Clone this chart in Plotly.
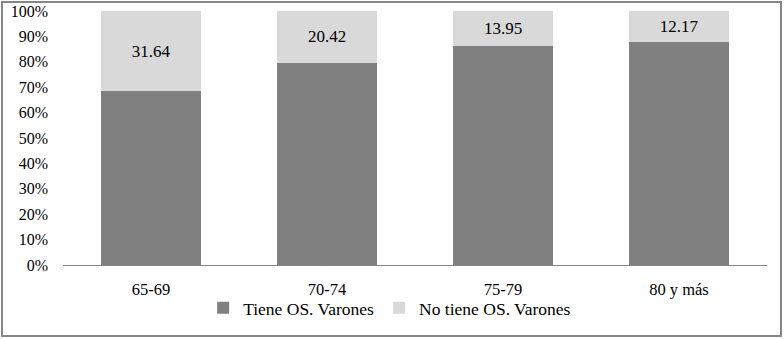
import plotly.graph_objects as go

categories = ["65-69", "70-74", "75-79", "80 y más"]
tiene = [68.36, 79.58, 86.05, 87.83]
no_tiene = [31.64, 20.42, 13.95, 12.17]
series_names = ["Tiene OS. Varones", "No tiene OS. Varones"]
tick_vals = [0, 10, 20, 30, 40, 50, 60, 70, 80, 90, 100]
tick_text = [f"{v}%" for v in tick_vals]

FONT = "Liberation Serif, Times New Roman, serif"

fig = go.Figure()
fig.add_trace(go.Bar(x=categories, y=tiene, name=series_names[0],
                     marker=dict(color="#808080", line=dict(width=0))))
fig.add_trace(go.Bar(x=categories, y=no_tiene, name=series_names[1],
                     marker=dict(color="#d9d9d9", line=dict(width=0)),
                     text=[f"{v:.2f}" for v in no_tiene], textposition="inside",
                     insidetextanchor="middle",
                     textfont=dict(family=FONT, size=17, color="#000000")))

L, R, T, B = 63, 17, 11, 74
W, H = 784, 339
pw, ph = W - L - R, H - T - B

fig.update_layout(
    barmode="stack", bargap=0.43,
    width=W, height=H,
    margin=dict(l=L, r=R, t=T, b=B, autoexpand=False),
    paper_bgcolor="white", plot_bgcolor="white",
    font=dict(family=FONT, size=16, color="#000000"),
    showlegend=True,
    legend=dict(orientation="h", x=0.497, xref="container", xanchor="center",
                y=0.145, yref="container", yanchor="top",
                font=dict(family=FONT, size=17.5), itemwidth=30,
                traceorder="normal", bgcolor="rgba(0,0,0,0)"),
    uniformtext=dict(mode=False),
    xaxis=dict(showgrid=False, showline=True, linecolor="#868686", linewidth=1,
               ticks="", ticklabelstandoff=9, automargin=False,
               tickfont=dict(family=FONT, size=16.5)),
    yaxis=dict(range=[0, 100], tickvals=tick_vals, ticktext=tick_text,
               showgrid=False, showline=False, zeroline=False, ticks="",
               ticklabelstandoff=14, automargin=False,
               tickfont=dict(family=FONT, size=16)),
    shapes=[dict(type="rect", xref="paper", yref="paper",
                 x0=(2 - L) / pw, x1=(781 - L) / pw,
                 y0=(H - B - 336) / ph, y1=(H - B - 2) / ph,
                 line=dict(color="#868686", width=2), fillcolor="rgba(0,0,0,0)",
                 layer="below")],
)

fig.write_html("out.html", config={"displayModeBar": False},
               post_script="document.body.style.margin='0';")
